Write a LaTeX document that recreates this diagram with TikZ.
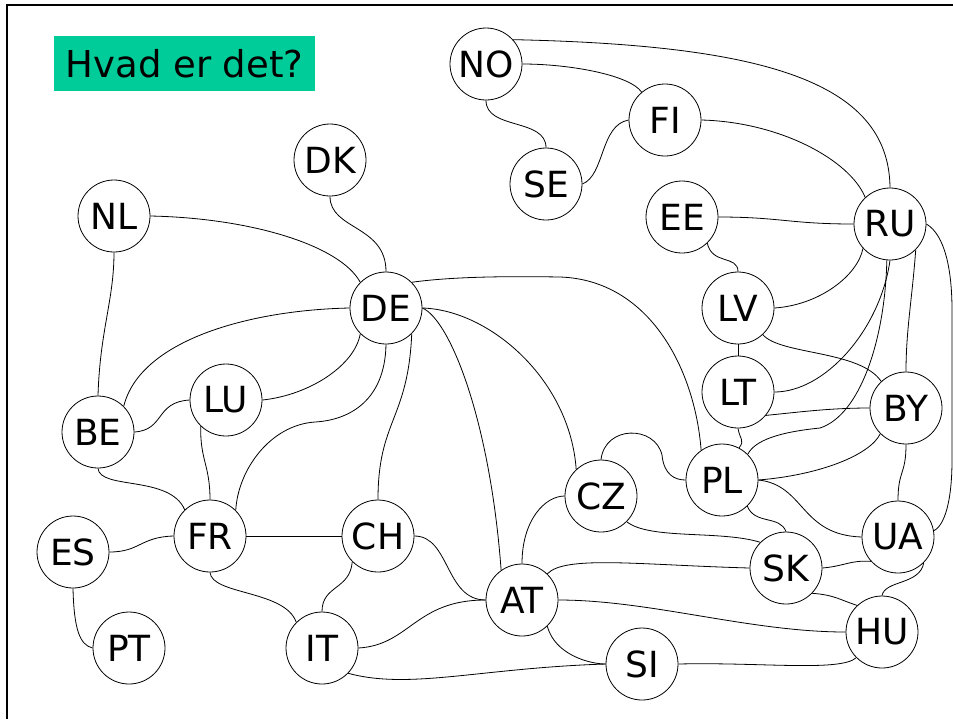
\documentclass[tikz,border=0pt]{standalone}
\usepackage{fontspec}
\setmainfont{DejaVu Sans}
\definecolor{titlegreen}{RGB}{0,204,153}

\newcommand*{\pxwidth}{953}
\newcommand*{\pxheight}{719}

\begin{document}
\begin{tikzpicture}
[
	country/.style={circle,draw,inner sep=0pt,minimum size=54pt,line width=0.6pt,font=\fontsize{27}{30}\selectfont},
	titlebox/.style={fill=titlegreen,inner sep=0pt,minimum width=195.75pt,minimum height=41.25pt,font=\fontsize{27.75}{30}\selectfont},
	link/.style={line width=0.6pt},
	x=0.75pt, y=-0.75pt
]

	% frame
	\useasboundingbox (0,0) rectangle (\pxwidth,\pxheight);
	\draw[line width=1.5pt] (7,\pxheight) -- (7,5) -- (\pxwidth,5);

	% title
	\node[titlebox] (title) at (184.5,63.5) {Hvad er det?};

	% countries
	\node[country] (NO) at (486,64) {NO};
	\node[country] (FI) at (665,120) {FI};
	\node[country] (SE) at (546,184) {SE};
	\node[country] (DK) at (330,160) {DK};
	\node[country] (NL) at (114,216) {NL};
	\node[country] (DE) at (386,308) {DE};
	\node[country] (EE) at (682,217) {EE};
	\node[country] (RU) at (890,224) {RU};
	\node[country] (LV) at (738,308) {LV};
	\node[country] (LT) at (738,392) {LT};
	\node[country] (BY) at (906,408) {BY};
	\node[country] (PL) at (722,480) {PL};
	\node[country] (CZ) at (601,496) {CZ};
	\node[country] (UA) at (898,537) {UA};
	\node[country] (SK) at (786,568) {SK};
	\node[country] (AT) at (522,600) {AT};
	\node[country] (HU) at (882,632) {HU};
	\node[country] (SI) at (642,664) {SI};
	\node[country] (BE) at (98,432) {BE};
	\node[country] (LU) at (226,400) {LU};
	\node[country] (FR) at (210,536) {FR};
	\node[country] (CH) at (378,536) {CH};
	\node[country] (ES) at (73,552) {ES};
	\node[country] (PT) at (129,648) {PT};
	\node[country] (IT) at (322,648) {IT};

	% borders
	\draw[link] (NO.south) .. controls (486,130) and (546,118) .. (SE.north);
	\draw[link] (NO.east) .. controls (570,64) and (630,75) .. (FI.130);
	\draw[link] (NO.42) .. controls (760,45) and (889,80) .. (RU.north);
	\draw[link] (SE.east) .. controls (605,175) and (600,125) .. (FI.west);
	\draw[link] (FI.east) .. controls (780,122) and (850,160) .. (RU.133);
	\draw[link] (EE.east) .. controls (780,217) and (790,224) .. (RU.west);
	\draw[link] (EE.-46) .. controls (712,265) and (738,255) .. (LV.north);
	\draw[link] (LV.east) .. controls (820,305) and (858,275) .. (RU.-138);
	\draw[link] (LV.south) -- (LT.north);
	\draw[link] (LV.-47) .. controls (780,355) and (860,350) .. (BY.133);
	\draw[link] (LT.east) .. controls (825,392) and (880,330) .. (RU.south);
	\draw[link] (RU.-95) .. controls (885,340) and (860,415) .. (820,428) .. controls (780,432) and (755,440) .. (PL.45);
	\draw[link] (LT.-40) .. controls (800,412) and (830,408) .. (BY.west);
	\draw[link] (LT.south) .. controls (740,440) and (745,440) .. (PL.62);
	\draw[link] (PL.east) .. controls (820,475) and (870,455) .. (BY.-135);
	\draw[link] (RU.-45) .. controls (912,300) and (906,330) .. (BY.north);
	\draw[link] (RU.east) .. controls (945,235) and (952,270) .. (952,310) -- (952,460) .. controls (952,500) and (945,525) .. (UA.10);
	\draw[link] (BY.south) .. controls (906,475) and (898,470) .. (UA.north);
	\draw[link] (PL.east) .. controls (805,485) and (800,535) .. (UA.west);
	\draw[link] (PL.-46) .. controls (755,525) and (780,515) .. (SK.north);
	\draw[link] (CZ.north) .. controls (605,425) and (655,425) .. (662,455) .. controls (664,475) and (675,480) .. (PL.west);
	\draw[link] (DE.45) .. controls (450,277) and (500,276) .. (560,277) .. controls (650,280) and (695,370) .. (PL.125);
	\draw[link] (DE.east) .. controls (490,310) and (570,380) .. (CZ.133);
	\draw[link] (DE.east) .. controls (450,320) and (490,420) .. (AT.125);
	\draw[link] (NL.east) .. controls (250,218) and (340,245) .. (DE.135);
	\draw[link] (DK.south) .. controls (330,230) and (386,225) .. (DE.north);
	\draw[link] (DE.west) .. controls (250,310) and (140,340) .. (BE.45);
	\draw[link] (LU.east) .. controls (310,395) and (355,365) .. (DE.225);
	\draw[link] (DE.south) .. controls (385,400) and (350,420) .. (315,422) .. controls (270,425) and (238,470) .. (FR.45);
	\draw[link] (DE.-45) .. controls (408,420) and (378,420) .. (CH.north);
	\draw[link] (NL.south) .. controls (114,300) and (100,330) .. (BE.north);
	\draw[link] (BE.east) .. controls (165,430) and (155,402) .. (LU.west);
	\draw[link] (BE.south) .. controls (100,490) and (170,475) .. (FR.134);
	\draw[link] (LU.-134) .. controls (200,460) and (210,465) .. (FR.north);
	\draw[link] (FR) -- (CH);
	\draw[link] (ES.east) .. controls (140,552) and (140,537) .. (FR.west);
	\draw[link] (ES.south) .. controls (74,630) and (80,645) .. (PT.west);
	\draw[link] (FR.south) .. controls (212,595) and (285,590) .. (IT.135);
	\draw[link] (CH.-135) .. controls (350,590) and (322,585) .. (IT.north);
	\draw[link] (CH.east) .. controls (450,536) and (445,600) .. (AT.west);
	\draw[link] (IT.east) .. controls (410,645) and (415,600) .. (AT.west);
	\draw[link] (IT.-44) .. controls (410,690) and (480,668) .. (SI.west);
	\draw[link] (AT.-46) .. controls (555,655) and (590,664) .. (SI.west);
	\draw[link] (AT.north) .. controls (522,520) and (545,496) .. (CZ.west);
	\draw[link] (AT.46) .. controls (565,555) and (640,565) .. (SK.west);
	\draw[link] (AT.east) .. controls (650,600) and (750,632) .. (HU.west);
	\draw[link] (CZ.-45) .. controls (650,540) and (720,530) .. (SK.135);
	\draw[link] (SK.east) .. controls (845,566) and (850,560) .. (UA.222);
	\draw[link] (SK.-44) .. controls (835,595) and (840,600) .. (HU.133);
	\draw[link] (UA.-45) .. controls (920,585) and (885,580) .. (HU.north);
	\draw[link] (SI.east) .. controls (760,662) and (840,672) .. (HU.225);

\end{tikzpicture}
\end{document}
